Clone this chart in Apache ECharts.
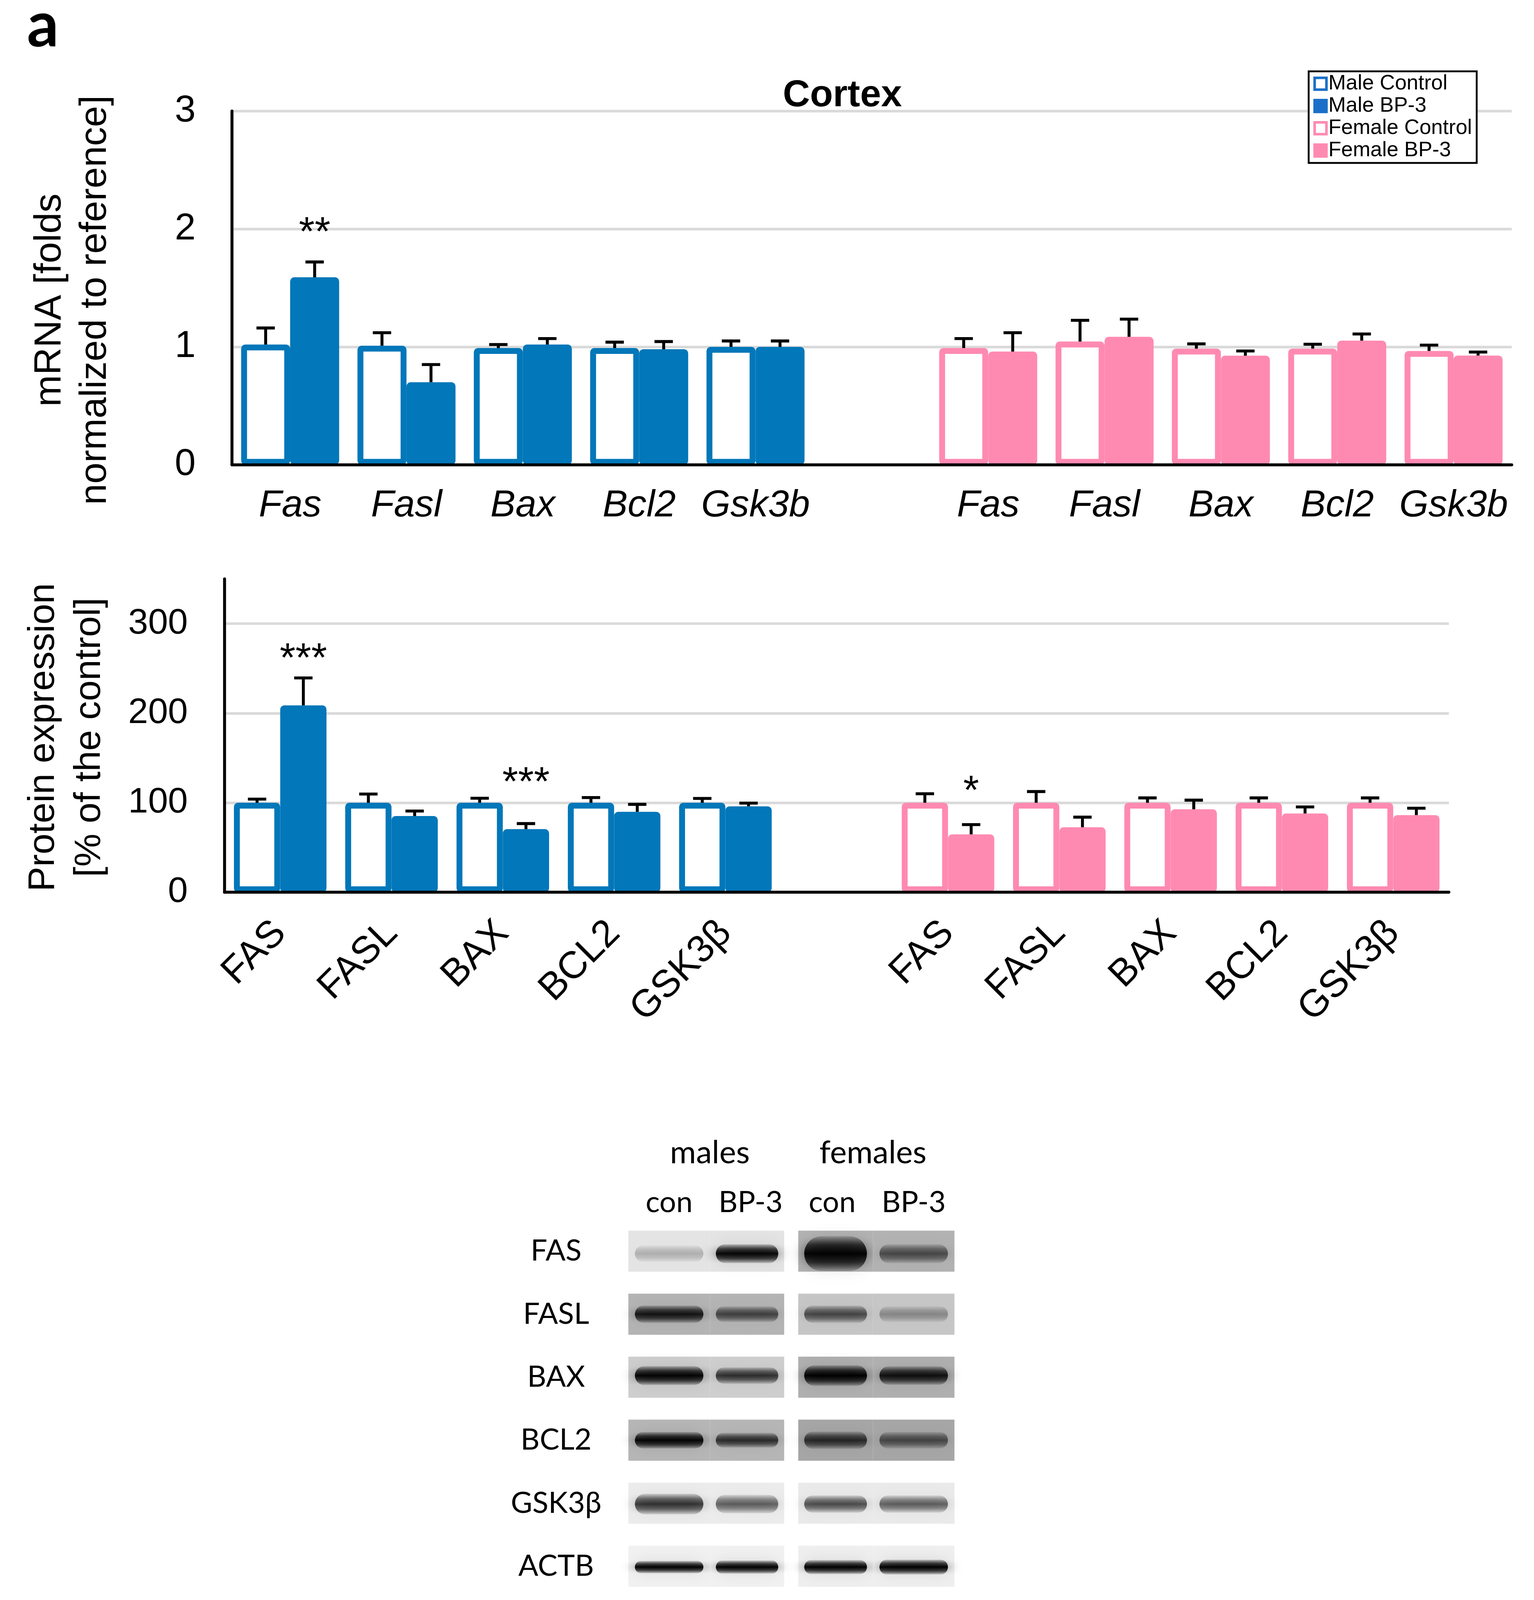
<!DOCTYPE html>
<html>
<head>
<meta charset="utf-8">
<script src="https://cdn.jsdelivr.net/npm/echarts@6/dist/echarts.min.js"></script>
<style>
  html, body { margin: 0; padding: 0; background: #fff; overflow: hidden; }
</style>
</head>
<body>
<div id="chart"></div>
<script>
// ---- datos ----
const mrnaGenes = ['Fas', 'Fasl', 'Bax', 'Bcl2', 'Gsk3b'];
const mrnaMaleCtrl = [1.02, 1.01, 0.99, 0.99, 1.00];
const mrnaMaleCtrlErr = [0.14, 0.11, 0.03, 0.05, 0.05];
const mrnaMaleBp3 = [1.59, 0.70, 1.02, 0.98, 1.00];
const mrnaMaleBp3Err = [0.13, 0.15, 0.05, 0.065, 0.05];
const mrnaFemaleCtrl = [0.99, 1.045, 0.985, 0.985, 0.965];
const mrnaFemaleCtrlErr = [0.08, 0.18, 0.04, 0.037, 0.05];
const mrnaFemaleBp3 = [0.96, 1.085, 0.925, 1.053, 0.926];
const mrnaFemaleBp3Err = [0.16, 0.15, 0.04, 0.056, 0.03];
// asteriscos: categoria, lado (1 = BP-3), altura, texto
const mrnaStarCat = [0];
const mrnaStarSide = [1];
const mrnaStarY = [2.04];
const mrnaStarText = ['**'];

const protGenes = ['FAS', 'FASL', 'BAX', 'BCL2', 'GSK3β'];
const protMaleCtrl = [100, 100, 100, 100, 100];
const protMaleCtrlErr = [4, 9.7, 5, 5.8, 4.8];
const protMaleBp3 = [208.8, 85.2, 70.5, 89.9, 96];
const protMaleBp3Err = [30.6, 5.5, 6.2, 8.3, 3.6];
const protFemaleCtrl = [100, 100, 100, 100, 100];
const protFemaleCtrlErr = [10, 12.5, 5.4, 5.4, 5.4];
const protFemaleBp3 = [64.7, 72.6, 92.7, 88, 86.2];
const protFemaleBp3Err = [10.9, 11.3, 10.2, 7.3, 7.7];
const protStarCat = [0, 2, 6];
const protStarSide = [1, 1, 1];
const protStarY = [270, 132, 122.5];
const protStarText = ['***', '***', '*'];

// western blot: gris de fondo por panel (machos, hembras) e intensidad de banda por carril
const blotProteins = ['FAS', 'FASL', 'BAX', 'BCL2', 'GSK3β', 'ACTB'];
const blotLanes = ['con', 'BP-3', 'con', 'BP-3'];
const blotGroups = ['males', 'females'];
const blotBg = [[228, 178], [180, 198], [206, 176], [182, 166], [236, 234], [241, 239]];
const blotBand = [
  [0.22, 0.95, 0.97, 0.55],
  [0.85, 0.6, 0.6, 0.3],
  [0.97, 0.72, 0.99, 0.88],
  [0.96, 0.72, 0.72, 0.55],
  [0.72, 0.55, 0.62, 0.55],
  [0.98, 0.98, 0.99, 0.99]
];

// ---- estilo ----
const FONT = "'Liberation Sans', Arial, sans-serif";
const BLOT_FONT = "Lato, 'Open Sans', sans-serif";
const BLUE = '#0277B9';
const BLUE_LEG = '#1A70C8';
const PINK = '#FF8AB1';
const GRID_GREY = '#D9D9D9';
// grosor relativo y desplazamiento de cada banda (solo aspecto)
const blotThick = [
  [0.4, 0.46, 0.85, 0.46],
  [0.42, 0.38, 0.42, 0.38],
  [0.46, 0.4, 0.5, 0.45],
  [0.4, 0.36, 0.42, 0.4],
  [0.5, 0.45, 0.42, 0.42],
  [0.3, 0.32, 0.34, 0.36]
];
const blotShift = [0.06, 0.0, -0.04, 0.0, 0.02, 0.02];

// la maqueta se hizo para 3928x4596; se ajusta a la ventana real
const W = window.innerWidth || 3928;
const H = window.innerHeight || 4596;
const SX = W / 3928, SY = H / 4596, SF = Math.sqrt(SX * SY);
const px = v => v * SX;
const py = v => v * SY;
const fz = v => v * SF;

const TOP_BAR_W = px(125.5);
const BOT_BAR_W = px(118.5);
const CAP = px(23.5);
const LW = fz(8);

const GAP = 6; // categoria vacia entre machos y hembras
const pad = n => Array(n).fill('-');
const maleRow = v => v.concat(pad(6));
const femaleRow = v => pad(6).concat(v);
const topCats = mrnaGenes.concat([''], mrnaGenes);
const botCats = protGenes.concat([''], protGenes);

function errData(mc, mce, mb, mbe, fc, fce, fb, fbe) {
  const out = [];
  for (let i = 0; i < mc.length; i++) {
    out.push([i, mc[i], mce[i], -1], [i, mb[i], mbe[i], 1]);
    out.push([i + GAP, fc[i], fce[i], -1], [i + GAP, fb[i], fbe[i], 1]);
  }
  return out;
}

function errRenderer(barW) {
  return function (params, api) {
    const v = api.value(1), e = api.value(2), side = api.value(3);
    const base = api.coord([api.value(0), v]);
    const top = api.coord([api.value(0), v + e]);
    const x = base[0] + side * barW / 2;
    return {
      type: 'group',
      children: [
        { type: 'line', shape: { x1: x, y1: base[1], x2: x, y2: top[1] }, style: { stroke: '#000', lineWidth: LW } },
        { type: 'line', shape: { x1: x - CAP, y1: top[1], x2: x + CAP, y2: top[1] }, style: { stroke: '#000', lineWidth: LW } }
      ]
    };
  };
}

function starRenderer(texts, barW) {
  const size = fz(110);
  return function (params, api) {
    const p = api.coord([api.value(0), api.value(1)]);
    const x = p[0] + api.value(2) * barW / 2;
    return {
      type: 'text', x: x, y: p[1] + size * 0.245,
      style: { text: texts[params.dataIndex], fontSize: size, fontFamily: FONT, fill: '#000', align: 'center', verticalAlign: 'middle' }
    };
  };
}

function renderBlot(params, api) {
  const lane = api.value(0), row = api.value(1);
  const g = Math.round(api.value(2)), d = api.value(3);
  const c = api.coord([lane, row]);
  const sz = api.size([1, 1]);
  let x0 = c[0] - sz[0] / 2, x1 = c[0] + sz[0] / 2;
  if (lane === 1) x1 -= px(18.5);
  if (lane === 2) x0 += px(17.5);
  const h = sz[1] * 0.652;
  const bw = (x1 - x0) * 0.84;
  const bh = h * blotThick[row][lane];
  const bx = (x0 + x1) / 2 - bw / 2;
  const by = c[1] - bh / 2 + h * blotShift[row];
  const k = a => 'rgba(0,0,0,' + a.toFixed(3) + ')';
  return {
    type: 'group',
    children: [
      { type: 'rect', shape: { x: x0, y: c[1] - h / 2, width: x1 - x0, height: h }, style: { fill: 'rgb(' + g + ',' + g + ',' + g + ')' } },
      {
        type: 'rect', shape: { x: bx, y: by, width: bw, height: bh, r: bh / 2 },
        style: {
          fill: new echarts.graphic.LinearGradient(0, 0, 0, 1, [
            { offset: 0, color: k(d * 0.15) }, { offset: 0.25, color: k(d * 0.7) },
            { offset: 0.5, color: k(d) }, { offset: 0.75, color: k(d * 0.7) }, { offset: 1, color: k(d * 0.15) }
          ]),
          shadowBlur: fz(40), shadowColor: k(d * 0.6)
        }
      }
    ]
  };
}

const blotData = [];
blotProteins.forEach((p, r) => {
  blotLanes.forEach((l, i) => {
    blotData.push([i, r, blotBg[r][i < 2 ? 0 : 1], blotBand[r][i]]);
  });
});

function barSeries(name, xi, stack, barW, data, filled, color) {
  return {
    name: name, type: 'bar', xAxisIndex: xi, yAxisIndex: xi, stack: stack,
    barWidth: barW, barGap: '0%', data: data, z: 2,
    itemStyle: { color: filled ? color : '#fff', borderColor: color, borderWidth: fz(16), borderRadius: 3 }
  };
}

const dom = document.getElementById('chart');
dom.style.width = W + 'px';
dom.style.height = H + 'px';
const chart = echarts.init(dom, null, { width: W, height: H });

const valueAxisBase = {
  type: 'value',
  axisLine: { show: true, lineStyle: { color: '#000', width: LW } },
  axisTick: { show: false },
  splitLine: { show: true, lineStyle: { color: GRID_GREY, width: fz(7) } }
};

const option = {
  animation: false,
  backgroundColor: '#fff',
  grid: [
    { left: px(594), top: py(319), width: px(3277), height: py(1016) },
    { left: px(575), top: py(1663), width: px(3135), height: py(900) },
    { left: px(1609), top: py(3503.5), width: px(835), height: py(1086) }
  ],
  legend: {
    orient: 'vertical', left: px(3351), top: py(205),
    padding: [py(5), px(12), py(5), px(12)], itemGap: py(3), itemWidth: fz(32), itemHeight: fz(32),
    borderColor: '#000', borderWidth: fz(5), backgroundColor: '#fff', selectedMode: false, z: 10,
    textStyle: { fontSize: fz(57), lineHeight: py(61), fontFamily: FONT, color: '#000' },
    data: [
      { name: 'Male Control', icon: 'rect', itemStyle: { color: '#fff', borderColor: BLUE_LEG, borderWidth: fz(7) } },
      { name: 'Male BP-3', icon: 'rect', itemStyle: { color: BLUE_LEG, borderColor: BLUE_LEG, borderWidth: fz(7) } },
      { name: 'Female Control', icon: 'rect', itemStyle: { color: '#fff', borderColor: PINK, borderWidth: fz(7) } },
      { name: 'Female BP-3', icon: 'rect', itemStyle: { color: PINK, borderColor: PINK, borderWidth: fz(7) } }
    ]
  },
  xAxis: [
    {
      gridIndex: 0, type: 'category', data: topCats, z: 3,
      axisLine: { lineStyle: { color: '#000', width: LW } }, axisTick: { show: false },
      axisLabel: { interval: 0, fontSize: fz(102), fontStyle: 'italic', fontFamily: FONT, color: '#000', margin: py(64) }
    },
    {
      gridIndex: 1, type: 'category', data: botCats, z: 3,
      axisLine: { lineStyle: { color: '#000', width: LW } }, axisTick: { show: false },
      axisLabel: { interval: 0, rotate: 45, fontSize: fz(104), fontFamily: FONT, color: '#000', margin: fz(95) }
    },
    {
      gridIndex: 2, type: 'category', data: blotLanes, position: 'top',
      axisLine: { show: false }, axisTick: { show: false }, splitLine: { show: false },
      axisLabel: { interval: 0, fontSize: fz(80), fontFamily: BLOT_FONT, color: '#000', margin: py(6) }
    },
    {
      gridIndex: 2, type: 'category', data: blotGroups, position: 'top', offset: py(140),
      axisLine: { show: false }, axisTick: { show: false }, splitLine: { show: false },
      axisLabel: { interval: 0, fontSize: fz(86), fontFamily: BLOT_FONT, color: '#000', margin: py(6) }
    }
  ],
  yAxis: [
    Object.assign({}, valueAxisBase, {
      gridIndex: 0, min: 0, max: 3, interval: 1,
      axisLabel: { fontSize: fz(102), fontFamily: FONT, color: '#000', margin: px(93) }
    }),
    Object.assign({}, valueAxisBase, {
      gridIndex: 1, min: 0, max: 350, interval: 100,
      axisLabel: { fontSize: fz(97), fontFamily: FONT, color: '#000', margin: px(94), showMaxLabel: false },
      splitLine: { show: true, showMaxLine: false, lineStyle: { color: GRID_GREY, width: fz(7) } }
    }),
    {
      gridIndex: 2, type: 'category', data: blotProteins, inverse: true,
      axisLine: { show: false }, axisTick: { show: false }, splitLine: { show: false },
      axisLabel: { interval: 0, align: 'center', fontSize: fz(80), fontFamily: BLOT_FONT, color: '#000', margin: px(185) }
    }
  ],
  series: [
    barSeries('Male Control', 0, 'ctrlTop', TOP_BAR_W, maleRow(mrnaMaleCtrl), false, BLUE),
    barSeries('Male BP-3', 0, 'bp3Top', TOP_BAR_W, maleRow(mrnaMaleBp3), true, BLUE),
    barSeries('Female Control', 0, 'ctrlTop', TOP_BAR_W, femaleRow(mrnaFemaleCtrl), false, PINK),
    barSeries('Female BP-3', 0, 'bp3Top', TOP_BAR_W, femaleRow(mrnaFemaleBp3), true, PINK),
    barSeries('Male Control', 1, 'ctrlBot', BOT_BAR_W, maleRow(protMaleCtrl), false, BLUE),
    barSeries('Male BP-3', 1, 'bp3Bot', BOT_BAR_W, maleRow(protMaleBp3), true, BLUE),
    barSeries('Female Control', 1, 'ctrlBot', BOT_BAR_W, femaleRow(protFemaleCtrl), false, PINK),
    barSeries('Female BP-3', 1, 'bp3Bot', BOT_BAR_W, femaleRow(protFemaleBp3), true, PINK),
    {
      type: 'custom', xAxisIndex: 0, yAxisIndex: 0, z: 5, silent: true,
      renderItem: errRenderer(TOP_BAR_W), encode: { x: 0, y: 1 },
      data: errData(mrnaMaleCtrl, mrnaMaleCtrlErr, mrnaMaleBp3, mrnaMaleBp3Err,
        mrnaFemaleCtrl, mrnaFemaleCtrlErr, mrnaFemaleBp3, mrnaFemaleBp3Err)
    },
    {
      type: 'custom', xAxisIndex: 1, yAxisIndex: 1, z: 5, silent: true,
      renderItem: errRenderer(BOT_BAR_W), encode: { x: 0, y: 1 },
      data: errData(protMaleCtrl, protMaleCtrlErr, protMaleBp3, protMaleBp3Err,
        protFemaleCtrl, protFemaleCtrlErr, protFemaleBp3, protFemaleBp3Err)
    },
    {
      type: 'custom', xAxisIndex: 0, yAxisIndex: 0, z: 5, silent: true,
      renderItem: starRenderer(mrnaStarText, TOP_BAR_W), encode: { x: 0, y: 1 },
      data: mrnaStarCat.map((c, i) => [c, mrnaStarY[i], mrnaStarSide[i]])
    },
    {
      type: 'custom', xAxisIndex: 1, yAxisIndex: 1, z: 5, silent: true,
      renderItem: starRenderer(protStarText, BOT_BAR_W), encode: { x: 0, y: 1 },
      data: protStarCat.map((c, i) => [c, protStarY[i], protStarSide[i]])
    },
    {
      type: 'custom', xAxisIndex: 2, yAxisIndex: 2, silent: true,
      renderItem: renderBlot, encode: { x: 0, y: 1 },
      data: blotData
    }
  ],
  graphic: [
    { type: 'text', x: px(69), y: py(76), style: { text: 'a', fontSize: fz(170), fontWeight: 'bold', fontFamily: BLOT_FONT, fill: '#000', align: 'left', verticalAlign: 'middle' } },
    { type: 'text', x: px(2157), y: py(275), style: { text: 'Cortex', fontSize: fz(102), fontWeight: 'bold', fontFamily: FONT, fill: '#000', align: 'center', verticalAlign: 'middle' } },
    { type: 'text', x: px(186), y: py(862), rotation: Math.PI / 2, style: { text: 'mRNA [folds\nnormalized to reference]', fontSize: fz(103), lineHeight: px(116), fontFamily: FONT, fill: '#000', align: 'center', verticalAlign: 'middle' } },
    { type: 'text', x: px(171), y: py(2118), rotation: Math.PI / 2, style: { text: 'Protein expression\n[% of the control]', fontSize: fz(101), lineHeight: px(118), fontFamily: FONT, fill: '#000', align: 'center', verticalAlign: 'middle' } }
  ]
};

chart.setOption(option);
</script>
</body>
</html>
